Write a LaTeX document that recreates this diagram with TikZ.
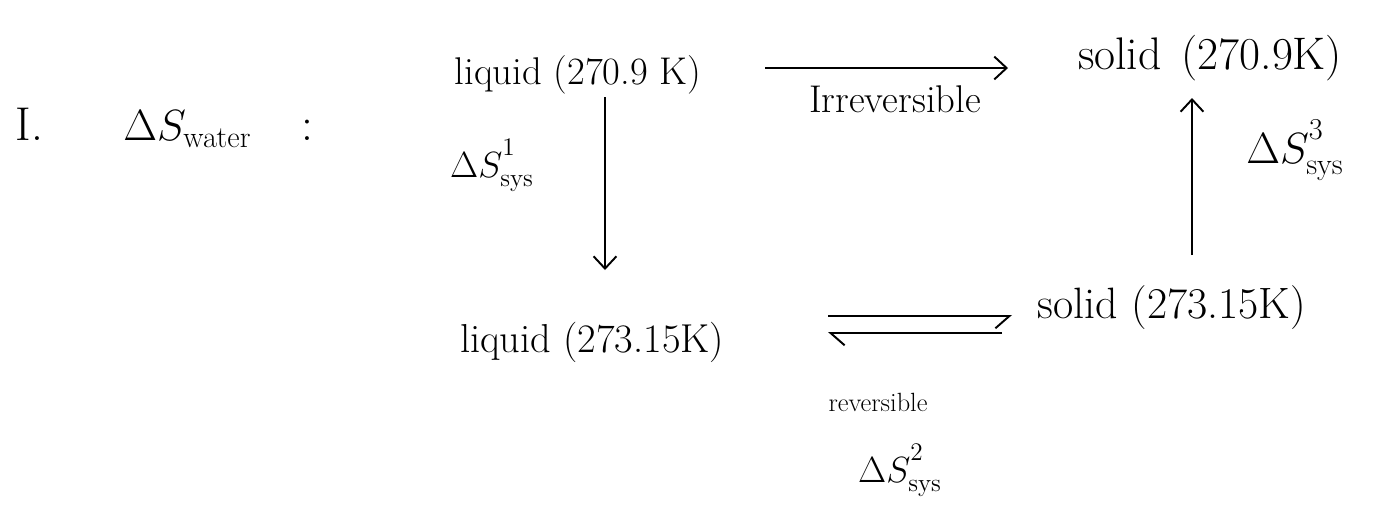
\documentclass[tikz,border=0pt]{standalone}
\usepackage{amsmath}
\usetikzlibrary{arrows.meta, positioning, calc}

\newcommand{\upsup}[1]{^{\raisebox{5pt}{$\scriptstyle #1$}}}

\begin{document}
\begin{tikzpicture}[x=0.02cm, y=-0.02cm,
    state/.style={font=\fontsize{22}{26}\selectfont, inner sep=2pt},
    lbl/.style={font=\fontsize{20}{24}\selectfont, inner sep=1pt},
    arr/.style={-{Straight Barb[length=7pt, width=13pt]}, line width=1.1pt},
    harpR/.style={-{Straight Barb[harpoon, swap, length=8pt, width=14pt]}, line width=1.1pt},
    harpL/.style={-{Straight Barb[harpoon, length=8pt, width=14pt]}, line width=1.1pt}
]
    \useasboundingbox (0,0) rectangle (1400,515);

    \node[state, font=\fontsize{27}{31}\selectfont, anchor=west] (title) at (12,128)
        {I.\hspace{1.6cm}$\Delta S_{\mathrm{water}}$\hspace{1.0cm}:};

    \node[state] (liq1) at (578,75) {liquid (270.9 K)};
    \node[state, font=\fontsize{26}{30}\selectfont] (sol1) at (1210,58) {solid\hspace{0.4cm}(270.9K)};
    \node[state, font=\fontsize{23}{27}\selectfont] (liq2) at (592,342) {liquid (273.15K)};
    \node[state, font=\fontsize{25}{29}\selectfont] (sol2) at (1172,308) {solid (273.15K)};

    % irreversible path
    \draw[arr] ($(liq1)+(187,-7)$) -- ($(sol1)+(-202,10)$);
    \node[lbl, font=\fontsize{22}{26}\selectfont] (irr) at (895,99) {Irreversible};

    % reversible path
    \draw[arr] ($(liq1)+(27,22)$) -- ($(liq2)+(13,-72)$);
    \node[state] (ds1) at (492,165) {$\Delta S\upsup{1}_{\mathrm{sys}}$};

    \draw[harpR] ($(liq2)+(236,-26)$) -- ($(sol2)+(-160,8)$);
    \draw[harpL] ($(sol2)+(-170,25)$) -- ($(liq2)+(236,-9)$);
    \node[lbl, font=\fontsize{15}{18}\selectfont] (rev) at (878,402) {reversible};
    \node[state] (ds2) at (900,470) {$\Delta S\upsup{2}_{\mathrm{sys}}$};

    \draw[arr] ($(sol2)+(20,-53)$) -- ($(sol1)+(-18,40)$);
    \node[state, font=\fontsize{24}{28}\selectfont] (ds3) at (1295,150) {$\Delta S\upsup{3}_{\mathrm{sys}}$};
\end{tikzpicture}
\end{document}
